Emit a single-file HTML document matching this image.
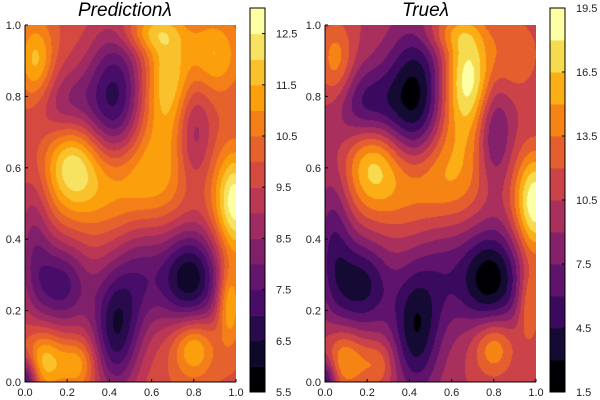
<!DOCTYPE html>
<html><head><meta charset="utf-8">
<style>
body{margin:0;background:#fff;width:600px;height:400px;overflow:hidden;font-family:"Liberation Sans",sans-serif}
#wrap{position:relative;width:600px;height:400px}
canvas{position:absolute}
.title{position:absolute;font-size:19px;font-style:italic;color:#000}
</style></head><body>
<div id="wrap">
<canvas id="c1" width="211" height="357" style="left:25px;top:25px"></canvas>
<canvas id="c2" width="211" height="357" style="left:325px;top:25px"></canvas>
<canvas id="cb1" width="15" height="384" style="left:250px;top:8px"></canvas>
<canvas id="cb2" width="15" height="384" style="left:550px;top:8px"></canvas>
<svg id="ov" width="600" height="400" style="position:absolute;left:0;top:0"></svg>
<div class="title" style="left:78px;top:0px">Predictionλ</div>
<div class="title" style="left:402px;top:0px">Trueλ</div>
</div>
<script>
// bump data: centre x, centre y, sigma x, sigma y, amplitude (prediction), amplitude (true)
const bx=[0.43,0.78,0.43,0.17,0.20,0.80,0.04,0.55,0.00, 0.22,0.45,0.68,1.00,0.09,0.80,0.05,0.62,0.25,0.60,0.90,0.97];
const by=[0.79,0.29,0.15,0.27,0.77,0.70,0.40,0.30,0.00, 0.62,0.56,0.86,0.50,0.06,0.10,0.90,0.70,0.05,0.98,0.92,0.22];
const bsx=[0.10,0.11,0.08,0.10,0.10,0.06,0.06,0.08,0.04, 0.09,0.20,0.08,0.07,0.07,0.07,0.06,0.12,0.06,0.10,0.09,0.04];
const bsy=[0.14,0.10,0.13,0.09,0.08,0.11,0.14,0.12,0.05, 0.09,0.10,0.10,0.10,0.06,0.06,0.08,0.12,0.05,0.04,0.08,0.08];
const predAmp=[-3.2,-3.8,-3.2,-2.6,-1.6,-1.5,-1.4,-1.5,-3.0, 2.0,1.8,1.8,3.0,2.0,2.0,1.8,0.9,1.5,1.5,1.6,2.0];
const trueAmp=[-8.5,-8.5,-7,-6.5,-5.5,-4.5,-4,-2.5,-6, 5,5,7.5,9,5,5,4,3,3,3,3,4];
const predBase=9.9, trueBase=10.4;
const predLevels=[5.5,13.0,0.5], trueLevels=[1.5,19.5,1.5];
const predTicks=[5.5,6.5,7.5,8.5,9.5,10.5,11.5,12.5];
const trueTicks=[1.5,4.5,7.5,10.5,13.5,16.5,19.5];
const axisTicks=[0,0.2,0.4,0.6,0.8,1.0];

const stops=[[0,0,4],[22,11,57],[66,10,104],[106,23,110],[147,38,103],[188,55,84],[221,81,58],[243,120,25],[252,165,10],[246,215,70],[252,255,164]];
function cmap(t){t=Math.max(0,Math.min(1,t));const p=t*10,i=Math.min(9,Math.floor(p)),f=p-i;
 return stops[i].map((v,k)=>Math.round(v+(stops[i+1][k]-v)*f));}
function field(x,y,base,amp){let v=base;for(let i=0;i<bx.length;i++){const dx=(x-bx[i])/bsx[i],dy=(y-by[i])/bsy[i];v+=amp[i]*Math.exp(-0.5*(dx*dx+dy*dy));}return v;}
function draw(id,base,amp,lv){const c=document.getElementById(id),ctx=c.getContext('2d'),W=c.width,H=c.height;
 const img=ctx.createImageData(W,H);const n=Math.round((lv[1]-lv[0])/lv[2]);
 for(let py=0;py<H;py++)for(let px=0;px<W;px++){const v=field(px/(W-1),1-py/(H-1),base,amp);
  let b=Math.floor((v-lv[0])/lv[2]);b=Math.max(0,Math.min(n-1,b));const col=cmap(b/(n-1));const o=(py*W+px)*4;
  img.data[o]=col[0];img.data[o+1]=col[1];img.data[o+2]=col[2];img.data[o+3]=255;}
 ctx.putImageData(img,0,0);}
function drawCb(id,lv){const c=document.getElementById(id),ctx=c.getContext('2d');const n=Math.round((lv[1]-lv[0])/lv[2]);const h=c.height/n;
 for(let i=0;i<n;i++){const col=cmap(i/(n-1));ctx.fillStyle=`rgb(${col})`;ctx.fillRect(0,c.height-(i+1)*h,15,h+0.5);}}
draw('c1',predBase,predAmp,predLevels);draw('c2',trueBase,trueAmp,trueLevels);
drawCb('cb1',predLevels);drawCb('cb2',trueLevels);

const ov=document.getElementById('ov'),NS='http://www.w3.org/2000/svg';
function el(tag,a){const e=document.createElementNS(NS,tag);for(const k in a)e.setAttribute(k,a[k]);ov.appendChild(e);return e;}
function txt(x,y,s,anchor){const e=el('text',{x:x,y:y,'font-size':11,'font-family':'Liberation Sans, sans-serif','text-anchor':anchor,fill:'#222'});e.textContent=s;return e;}
[[25,236],[325,536]].forEach((p,k)=>{
 const l=el('path',{d:`M${p[0]},25 V382 H${p[1]}`,stroke:'#000','stroke-width':1,fill:'none'});
 
 
 axisTicks.forEach(t=>{const x=p[0]+t*(p[1]-p[0]);const y=382-t*357;
  el('line',{x1:x,y1:382,x2:x,y2:379,stroke:'#000'});el('line',{x1:p[0],y1:y,x2:p[0]+3,y2:y,stroke:'#000'});
  const a=txt(x,396,t.toFixed(1),'middle');
  const b=txt(p[0]-4,y+4,t.toFixed(1),'end');});
});
[[250,predTicks,predLevels],[550,trueTicks,trueLevels]].forEach(([x0,ticks,lv])=>{
 el('rect',{x:x0,y:8,width:15,height:384,fill:'none',stroke:'#000','stroke-width':1});
 ticks.forEach(t=>{const y=392-(t-lv[0])/(lv[1]-lv[0])*384;el('line',{x1:x0+12,y1:y,x2:x0+15,y2:y,stroke:'#000'});
  const a=txt(x0+26,y+4,t.toFixed(1),'start');});
});
</script>
</body></html>
